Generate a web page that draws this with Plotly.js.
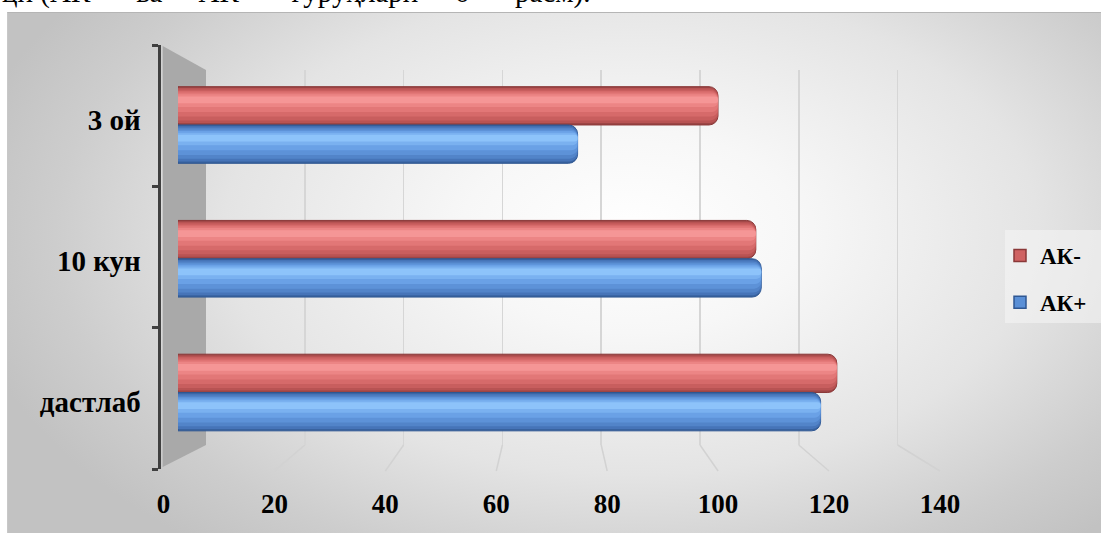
<!DOCTYPE html>
<html>
<head>
<meta charset="utf-8">
<script src="https://cdn.plot.ly/plotly-3.0.1.min.js"></script>
<style>
html,body{margin:0;padding:0;background:#ffffff;}
#wrap{position:relative;width:1101px;height:533px;overflow:hidden;background:#ffffff;}
#bg{position:absolute;left:7px;top:12px;right:0;bottom:0;
  background:radial-gradient(ellipse 62% 78% at 57% 42%, #ffffff 0%, #f7f7f7 25%, #e4e4e4 60%, #cdcdcd 85%, #c2c2c2 100%);
  border-top:1px solid #b5b5b5;border-left:1px solid #c8c8c8;}
#chart{position:absolute;left:0;top:0;width:1101px;height:533px;}
</style>
</head>
<body>
<div id="wrap"><div id="bg"></div><div id="chart"></div></div>
<script>
// ---- data ----
const categories = ['дастлаб', '10 кун', '3 ой'];
const akPlus  = [119, 108, 74];
const akMinus = [122, 107, 100];
const seriesNames = ['АК-', 'АК+'];
const xTicks = [0, 20, 40, 60, 80, 100, 120, 140];
const headText = 'ци (АК-\u2003 ва\u2003 АК+\u2003 гуруҳлари\u2003 6-\u2003 расм).';

// ---- geometry (pixels in 1101x533 page) ----
const W = 1101, H = 533;
const fx = v => v / W;
const fy = v => (H - v) / H;
const FRONT = {x0: 163.5, s: 5.546, top: 45, bottom: 469, line: 160.7, labelShift: 4};
const MID   = {x0: 178,   s: 5.4,   top: 58.1, bottom: 459.4};
const BACK  = {x0: 206,   s: 4.94,  top: 70, bottom: 445};
const xMax = 140;
const pad = 1;
const floorFront = 471;

const serif = 'Liberation Serif, Times New Roman, serif';

// ---- bars: layered cylinders ----
const barW = 0.2865;
const palettes = {
  'АК-': {edge: '#8a3838', legend: '#cf6262',
          layers: ['#9c4545', '#b85353', '#c85e5e', '#d66a6a', '#e27777', '#ec8585', '#f59696']},
  'АК+': {edge: '#2f5792', legend: '#5a8fd6',
          layers: ['#38629f', '#4674b8', '#5284c9', '#5d92d8', '#6aa1e6', '#7ab1f0', '#8dc3fa']}
};
// nested bands (fraction of bar thickness, from bottom) for each shading layer
const bands = [[0, 1], [0.05, 0.965], [0.12, 0.925], [0.22, 0.885], [0.34, 0.845], [0.47, 0.8], [0.57, 0.745]];
const radii = [9, 8.5, 8, 7, 6, 5, 4];

function cylinderTraces(values, name, base) {
  const pal = palettes[name];
  const list = bands.map((b, i) => ({
    type: 'bar', orientation: 'h',
    x: values, y: categories,
    xaxis: 'x2', yaxis: 'y2',
    name: name, legendgroup: name, showlegend: false,
    offset: base + b[0] * barW,
    width: (b[1] - b[0]) * barW,
    marker: {
      color: pal.layers[i],
      cornerradius: radii[i],
      line: {color: i === 0 ? pal.edge : 'rgba(0,0,0,0)', width: i === 0 ? 1 : 0}
    },
    hoverinfo: 'skip'
  }));
  // legend entry: same values, placed outside the visible category range
  list.unshift({
    type: 'bar', orientation: 'h', x: values, y: categories,
    xaxis: 'x2', yaxis: 'y2', name: name, legendgroup: name, showlegend: true,
    offset: 10, width: barW,
    marker: {color: pal.legend, line: {color: pal.edge, width: 1.5}},
    hoverinfo: 'skip'
  });
  return list;
}

const traces = [
  ...cylinderTraces(akMinus, seriesNames[0], 0),
  ...cylinderTraces(akPlus, seriesNames[1], -barW),
  // invisible anchor traces for back wall grid and front axes
  {type: 'scatter', mode: 'markers', x: akMinus, y: [0.5, 0.5, 0.5], xaxis: 'x', yaxis: 'y',
   marker: {opacity: 0}, showlegend: false, hoverinfo: 'skip'},
  {type: 'scatter', mode: 'markers', x: akMinus, y: categories, xaxis: 'x3', yaxis: 'y3',
   marker: {opacity: 0}, showlegend: false, hoverinfo: 'skip'},
  {type: 'scatter', mode: 'markers', x: akMinus, y: categories, xaxis: 'x3', yaxis: 'y4',
   marker: {opacity: 0}, showlegend: false, hoverinfo: 'skip'}
];

// ---- decorative 3D frame: side wall, floor lines, legend panel ----
const shapes = [];
shapes.push({
  type: 'path', xref: 'paper', yref: 'paper', layer: 'below',
  path: `M${fx(FRONT.line + 2)},${fy(FRONT.top + 1)} L${fx(BACK.x0)},${fy(BACK.top)} L${fx(BACK.x0)},${fy(BACK.bottom)} L${fx(FRONT.line + 2)},${fy(FRONT.bottom - 2)} Z`,
  fillcolor: '#a9a9a9', line: {width: 0}
});
xTicks.filter(v => v > 0).forEach(v => {
  shapes.push({
    type: 'line', xref: 'paper', yref: 'paper', layer: 'below',
    x0: fx(BACK.x0 + v * BACK.s), y0: fy(BACK.bottom),
    x1: fx(FRONT.x0 + v * FRONT.s), y1: fy(floorFront),
    line: {color: '#d2d2d2', width: 1.5}
  });
});
shapes.push({
  type: 'rect', xref: 'paper', yref: 'paper', layer: 'below',
  x0: fx(1005), x1: 1, y0: fy(323), y1: fy(230),
  fillcolor: 'rgba(246,246,246,0.55)', line: {width: 0}
});

const catAxisBase = {type: 'category', categoryarray: categories, categoryorder: 'array',
                     range: [-0.5, 2.5], showgrid: false, zeroline: false};

const layout = {
  width: W, height: H,
  margin: {l: 0, r: 0, t: 0, b: 0, pad: 0},
  paper_bgcolor: 'rgba(0,0,0,0)',
  plot_bgcolor: 'rgba(0,0,0,0)',
  barmode: 'overlay',
  showlegend: true,
  hovermode: false,
  font: {family: serif, color: '#000000'},
  // back wall gridlines
  xaxis: {domain: [fx(BACK.x0), fx(BACK.x0 + (xMax + pad) * BACK.s)], range: [0, xMax + pad], anchor: 'y',
          tickvals: xTicks.filter(v => v > 0), showticklabels: false, ticks: '',
          showgrid: true, gridcolor: '#d6d6d6', gridwidth: 1.5, zeroline: false, showline: false},
  yaxis: {domain: [fy(BACK.bottom), fy(BACK.top)], range: [0, 1], anchor: 'x',
          showgrid: false, zeroline: false, showline: false, showticklabels: false, ticks: ''},
  // bars plane
  xaxis2: {domain: [fx(MID.x0), fx(MID.x0 + xMax * MID.s)], range: [0, xMax], anchor: 'y2',
           showgrid: false, zeroline: false, showline: false, showticklabels: false, ticks: ''},
  yaxis2: Object.assign({}, catAxisBase, {domain: [fy(MID.bottom), fy(MID.top)], anchor: 'x2',
           showline: false, showticklabels: false, ticks: ''}),
  // front axes
  xaxis3: {domain: [fx(FRONT.line), fx(FRONT.x0 + (xMax + pad) * FRONT.s)],
           range: [-(FRONT.x0 - FRONT.line) / FRONT.s, xMax + pad], anchor: 'y3',
           tickvals: xTicks, ticktext: xTicks.map(String), ticks: '', showgrid: false, zeroline: false, showline: false,
           tickfont: {family: serif, size: 27, weight: 'bold', color: '#000000'}, ticklabelstandoff: 16},
  yaxis3: Object.assign({}, catAxisBase, {domain: [fy(FRONT.bottom), fy(FRONT.top)], anchor: 'x3',
           showline: true, linecolor: '#404040', linewidth: 3,
           ticks: 'outside', tickson: 'boundaries', ticklen: 6, tickwidth: 3, tickcolor: '#404040',
           showticklabels: false}),
  // category labels (front plane, text baseline slightly lower)
  yaxis4: Object.assign({}, catAxisBase, {
           domain: [fy(FRONT.bottom + FRONT.labelShift), fy(FRONT.top + FRONT.labelShift)],
           anchor: 'free', position: fx(FRONT.line), side: 'left',
           showline: false, ticks: '', ticklen: 0,
           tickfont: {family: serif, size: 29, weight: 'bold', color: '#000000'}, ticklabelstandoff: 20}),
  legend: {x: fx(1000), y: fy(234), xanchor: 'left', yanchor: 'top',
           bgcolor: 'rgba(0,0,0,0)', borderwidth: 0,
           traceorder: 'grouped', tracegroupgap: 14,
           font: {family: serif, size: 23, weight: 'bold', color: '#000000'}},
  shapes: shapes,
  annotations: [{
    xref: 'paper', yref: 'paper', x: 0, y: 1, xanchor: 'left', yanchor: 'middle', yshift: 8,
    text: headText, showarrow: false,
    font: {family: serif, size: 29, color: '#000000'}
  }]
};

Plotly.newPlot('chart', traces, layout, {staticPlot: true, displayModeBar: false});
</script>
</body>
</html>
